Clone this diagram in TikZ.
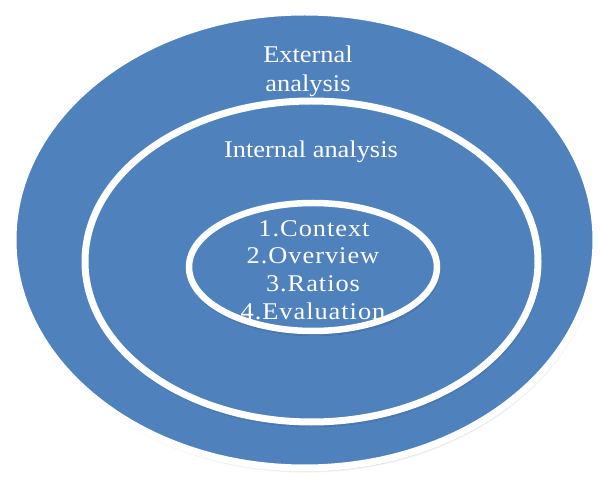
\documentclass[tikz,border=0pt]{standalone}
\usepackage{fontspec}
\setmainfont{Liberation Serif}[FakeStretch=1.1]
\newfontfamily\stepfont{Liberation Serif}[FakeStretch=1.1, LetterSpace=4]
\usetikzlibrary{shapes.geometric,shadows.blur}
\definecolor{ringblue}{HTML}{4F81BD}
\tikzset{
  ring/.style={ellipse, draw=white, fill=ringblue, line width=7pt, inner sep=0pt,
    blur shadow={shadow xshift=1pt, shadow yshift=-3pt, shadow opacity=35, shadow blur steps=6}},
  label/.style={text=white, font=\fontsize{24}{28}\selectfont, align=center, inner sep=0pt},
  steplabel/.style={label, font=\stepfont\fontsize{24}{28}\selectfont}
}
\begin{document}
\begin{tikzpicture}[x=1pt,y=1pt]
  \useasboundingbox (0,0) rectangle (600,477);
  % three nested rings
  \node[ring, minimum width=583pt, minimum height=456pt] (outer) at (304.5,237) {};
  \node[ring, minimum width=453pt, minimum height=321pt] (middle) at (311.5,215.5) {};
  \node[ring, line width=6.5pt, minimum width=248pt, minimum height=128pt] (inner) at (313,210) {};
  % captions
  \node[label, anchor=base] (ext1) at (308,414) {External};
  \node[label, anchor=base] (ext2) at (308,385) {analysis};
  \node[label, anchor=base] (int) at (311,319) {Internal analysis};
  \node[steplabel, anchor=base] (s1) at (314,240) {1.Context};
  \node[steplabel, anchor=base] (s2) at (313,213) {2.Overview};
  \node[steplabel, anchor=base] (s3) at (313,185) {3.Ratios};
  \node[steplabel, anchor=base] (s4) at (313,157) {4.Evaluation};
\end{tikzpicture}
\end{document}
